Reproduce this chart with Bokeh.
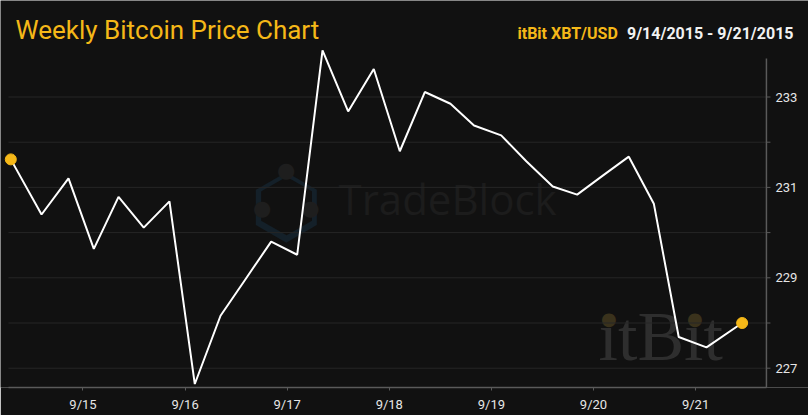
from bokeh.plotting import figure
from bokeh.models import Label, FixedTicker, Range1d
from bokeh.core.properties import value
from bokeh.embed import file_html
from bokeh.resources import INLINE

# ---- data ----
# time as day-of-month in September 2015 (fractional days)
days = [14.293, 14.594, 14.858, 15.106, 15.348, 15.595, 15.847, 16.095, 16.347, 16.595,
        16.843, 17.098, 17.346, 17.597, 17.848, 18.103, 18.348, 18.599, 18.830, 19.096,
        19.342, 19.601, 19.840, 20.091, 20.346, 20.591, 20.835, 21.107, 21.456]
prices = [231.62, 230.40, 231.20, 229.64, 230.79, 230.11, 230.69, 226.65, 228.16, 228.98,
          229.80, 229.51, 234.03, 232.68, 233.62, 231.80, 233.11, 232.85, 232.37, 232.15,
          231.58, 231.02, 230.84, 231.26, 231.68, 230.64, 227.69, 227.46, 228.00]
x_ticks = [15, 16, 17, 18, 19, 20, 21]
x_tick_labels = ["9/15", "9/16", "9/17", "9/18", "9/19", "9/20", "9/21"]
y_ticks = [227, 228, 229, 230, 231, 232, 233]
y_tick_labels = ["227", "", "229", "", "231", "", "233"]

title_text = "Weekly Bitcoin Price Chart"
source_text = "itBit XBT/USD"
range_text = "9/14/2015 - 9/21/2015"

# plot extents (chart edges, not data)
X_LEFT, X_AXIS = 14.27, 21.694      # left edge of grid / position of the price axis
Y_LOW, Y_AXIS_TOP = 226.573, 233.85

BG = "#111111"
AMBER = "#F5B818"
AXIS = "#5a5a5a"
LABEL = "#e6e6e6"

p = figure(width=808, height=415, output_backend="svg", toolbar_location=None,
           x_range=Range1d(14.192, 22.106), y_range=Range1d(Y_LOW, 235.135),
           y_axis_location=None, background_fill_color=BG, border_fill_color=BG,
           min_border_left=0, min_border_right=0, min_border_top=0, min_border_bottom=28)
p.outline_line_color = None
p.grid.visible = False

# time axis (bottom)
p.xaxis.ticker = FixedTicker(ticks=x_ticks)
p.xaxis.major_label_overrides = {t: l for t, l in zip(x_ticks, x_tick_labels)}
p.xaxis.bounds = (X_LEFT, X_AXIS)
p.xaxis.axis_line_color = AXIS
p.xaxis.axis_line_width = 1.5
p.xaxis.major_tick_line_color = AXIS
p.xaxis.major_tick_in = 0
p.xaxis.major_tick_out = 3
p.xaxis.minor_tick_line_color = None
p.xaxis.major_label_text_color = LABEL
p.xaxis.major_label_text_font = "Roboto"
p.xaxis.major_label_text_font_size = "13px"
p.xaxis.major_label_standoff = 6

# price axis (right side of the grid), grid lines
p.segment(x0=[X_LEFT] * len(y_ticks), y0=y_ticks, x1=[X_AXIS] * len(y_ticks), y1=y_ticks,
          line_color="#262626", line_width=1)
p.segment(x0=[X_AXIS], y0=[Y_LOW], x1=[X_AXIS], y1=[Y_AXIS_TOP], line_color=AXIS,
          line_width=1.5)
p.ray(x=[X_AXIS] * len(y_ticks), y=y_ticks, length=4, length_units="screen", angle=0,
      line_color=AXIS, line_width=1)
p.text(x=[X_AXIS] * len(y_ticks), y=y_ticks, text=y_tick_labels, x_offset=9,
       text_baseline="middle", text_align="left", text_font=value("Roboto"),
       text_font_size="13px", text_color=LABEL)

# watermarks / titles (screen units: x from left edge, y from frame bottom at 387px)
def mark(x, y, text, font, size, color, align="left", style="normal", level="underlay"):
    p.add_layout(Label(x=x, y=387 - y, x_units="screen", y_units="screen", text=text,
                       text_font=font, text_font_size=size, text_color=color,
                       text_font_style=style, text_align=align, text_baseline="middle",
                       level=level))

mark(338, 198, "TradeBlock", "Open Sans", "42px", "#1c1c1c")
mark(286, 205.7, "\u2b22", "DejaVu Sans", "84px", "#142029", "center")
mark(286, 204.7, "\u2b22", "DejaVu Sans", "70px", BG, "center")
for dx, dy in [(285.7, 169.7), (261.7, 207.3), (310.0, 207.3)]:
    mark(dx, dy, "\u25cf", "DejaVu Sans", "21px", "#1e1e1e", "center")
mark(598, 336, "\u0131tB\u0131t", "Liberation Serif", "70px", "#2e2e2e")
for dx in (608.3, 694.3):
    mark(dx, 317.7, "\u25cf", "DejaVu Sans", "18px", "#3a321c", "center")

mark(15, 29, title_text, "Roboto", "26px", AMBER, level="annotation")
mark(517, 33, source_text, "Roboto", "16px", AMBER, style="bold", level="annotation")
mark(793, 33, range_text, "Roboto", "16px", "#f2f2f2", align="right", style="bold",
     level="annotation")

# price line and end points
p.line(days, prices, line_color="white", line_width=2)
p.scatter([days[0], days[-1]], [prices[0], prices[-1]], size=11, fill_color=AMBER,
          line_color=AMBER)

open("out.html", "w").write(file_html(p, INLINE))
